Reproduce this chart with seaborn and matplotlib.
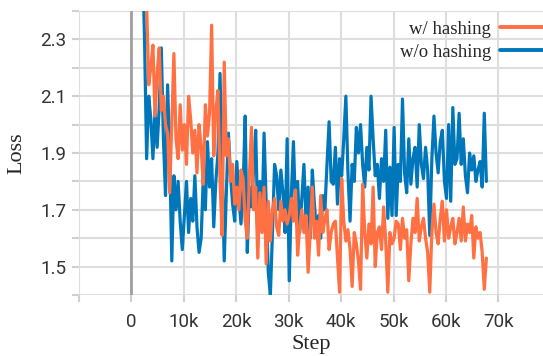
import numpy as np
import pandas as pd
import matplotlib
matplotlib.use("Agg")
import matplotlib.pyplot as plt
import seaborn as sns

# ---------------- data ----------------
steps = np.arange(2100, 67800, 400)

loss_without = [
    2.60, 2.30, 1.88, 2.10, 2.02, 1.88, 2.05, 1.92, 2.06, 2.27,
    1.95, 1.75, 2.14, 1.90, 1.52, 1.82, 1.70, 1.80, 1.66, 1.56,
    1.68, 1.80, 1.62, 1.74, 1.66, 1.82, 1.64, 1.55, 1.60, 1.81,
    1.70, 1.94, 1.78, 1.88, 1.64, 1.80, 1.90, 2.18, 1.85, 1.52,
    1.76, 1.97, 1.82, 1.72, 1.66, 1.87, 1.74, 1.65, 1.78, 2.03,
    1.55, 1.78, 1.71, 1.84, 1.98, 1.64, 1.80, 1.66, 1.97, 1.72,
    1.48, 1.40, 1.62, 1.86, 1.82, 1.70, 1.84, 1.76, 1.62, 1.95,
    1.45, 1.75, 1.94, 1.70, 1.80, 1.62, 1.74, 1.86, 1.66, 1.78,
    1.60, 1.84, 1.72, 1.62, 1.68, 1.60, 1.75, 1.70, 1.86, 2.01,
    1.80, 1.79, 1.92, 1.72, 1.88, 1.82, 1.95, 2.10, 1.83, 1.66,
    1.86, 1.80, 1.99, 1.90, 2.00, 1.86, 1.78, 1.92, 1.84, 2.10,
    1.95, 1.82, 1.86, 1.74, 1.88, 1.80, 1.98, 1.67, 1.85, 1.68,
    1.99, 1.68, 1.86, 1.80, 2.09, 1.83, 1.76, 1.95, 1.79, 1.88,
    1.92, 1.78, 2.00, 1.86, 1.81, 1.92, 1.84, 1.61, 1.88, 2.03,
    1.90, 1.83, 1.94, 1.98, 1.80, 1.74, 2.00, 1.73, 2.06, 1.86,
    1.88, 2.04, 1.86, 1.95, 1.82, 1.76, 1.90, 1.84, 1.89, 1.80,
    1.84, 1.87, 1.78, 2.04, 1.80,
]

loss_with = [
    2.70, 2.55, 2.42, 2.14, 2.20, 2.28, 2.03, 2.18, 2.27, 2.05,
    2.10, 2.00, 1.97, 1.76, 2.00, 2.25, 1.95, 1.88, 2.07, 1.91,
    2.00, 1.86, 2.10, 2.02, 1.90, 1.98, 1.83, 2.00, 1.92, 1.79,
    2.07, 1.96, 2.04, 2.35, 1.89, 2.05, 2.12, 1.80, 1.61, 2.22,
    1.89, 1.95, 1.80, 1.86, 1.72, 1.78, 1.70, 1.84, 1.81, 1.66,
    1.60, 1.82, 1.99, 1.70, 1.78, 1.53, 1.76, 1.62, 1.78, 1.51,
    1.73, 1.59, 1.70, 1.74, 1.64, 1.61, 1.73, 1.66, 1.70, 1.65,
    1.68, 1.74, 1.66, 1.77, 1.54, 1.64, 1.70, 1.62, 1.68, 1.48,
    1.62, 1.78, 1.60, 1.66, 1.54, 1.75, 1.62, 1.67, 1.70, 1.56,
    1.62, 1.65, 1.66, 1.53, 1.41, 1.81, 1.66, 1.59, 1.63, 1.56,
    1.43, 1.62, 1.58, 1.52, 1.42, 1.79, 1.62, 1.53, 1.65, 1.58,
    1.78, 1.50, 1.62, 1.64, 1.56, 1.71, 1.59, 1.41, 1.62, 1.58,
    1.60, 1.66, 1.65, 1.56, 1.67, 1.60, 1.63, 1.45, 1.58, 1.67,
    1.62, 1.74, 1.59, 1.64, 1.67, 1.60, 1.55, 1.41, 1.62, 1.72,
    1.62, 1.58, 1.67, 1.73, 1.59, 1.70, 1.60, 1.64, 1.67, 1.58,
    1.62, 1.67, 1.59, 1.71, 1.59, 1.65, 1.62, 1.68, 1.53, 1.64,
    1.60, 1.62, 1.55, 1.42, 1.53,
]

series_names = ["w/ hashing", "w/o hashing"]
series_colors = ["#FF7043", "#0077BB"]

x_ticks = [-10000, 0, 10000, 20000, 30000, 40000, 50000, 60000, 70000]
x_tick_labels = ["", "0", "10k", "20k", "30k", "40k", "50k", "60k", "70k"]
y_ticks = [1.4, 1.5, 1.6, 1.7, 1.8, 1.9, 2.0, 2.1, 2.2, 2.3, 2.4]
y_tick_labels = ["", "1.5", "", "1.7", "", "1.9", "", "2.1", "", "2.3", ""]

# ---------------- plot ----------------
sns.set_style("white")

df_with = pd.DataFrame({"Step": steps, "Loss": loss_with})
df_without = pd.DataFrame({"Step": steps, "Loss": loss_without})

fig = plt.figure(figsize=(5.43, 3.56), dpi=100)
ax = fig.add_axes([79 / 543, 1 - 295 / 356, 1 - 79 / 543, (295 - 11) / 356])

sns.lineplot(data=df_without, x="Step", y="Loss", ax=ax, color=series_colors[1],
             linewidth=2.3, estimator=None, sort=False, label=series_names[1])
sns.lineplot(data=df_with, x="Step", y="Loss", ax=ax, color=series_colors[0],
             linewidth=2.3, estimator=None, sort=False, label=series_names[0])

ax.set_xlim(-10000, 78500)
ax.set_ylim(1.4, 2.4)
ax.set_xticks(x_ticks)
ax.set_xticklabels(x_tick_labels)
ax.set_yticks(y_ticks)
ax.set_yticklabels(y_tick_labels)

ax.grid(True, color="#dedede", linewidth=1.5)
ax.set_axisbelow(True)
ax.axvline(0, color="#a0a0a0", linewidth=2, zorder=1)
for s in ax.spines.values():
    s.set_visible(False)

ax.tick_params(axis="both", which="both", length=5, width=1.5, color="#d0d0d0",
               labelcolor="#333333", labelsize=13.5)
ax.tick_params(axis="x", bottom=True, pad=8)
ax.tick_params(axis="y", left=True, pad=4)
for lab in ax.get_xticklabels() + ax.get_yticklabels():
    lab.set_family(["Roboto", "DejaVu Sans"])

ax.set_xlabel("Step", family=["Liberation Serif"], fontsize=16, labelpad=3)
ax.set_ylabel("Loss", family=["Liberation Serif"], fontsize=16, labelpad=10)

handles, labels = ax.get_legend_handles_labels()
order = [labels.index(n) for n in series_names]
leg = ax.legend([handles[i] for i in order], [labels[i] for i in order],
                loc="upper right", bbox_to_anchor=(1.025, 0.942),
                bbox_transform=fig.transFigure, frameon=False, markerfirst=False,
                borderaxespad=0, borderpad=0, handlelength=3.0, handletextpad=0.5,
                labelspacing=0.3, prop={"family": "Liberation Serif", "size": 13.5})
for line in leg.get_lines():
    line.set_linewidth(2.8)
leg.set_zorder(5)

fig.savefig("out.png", dpi=100)
